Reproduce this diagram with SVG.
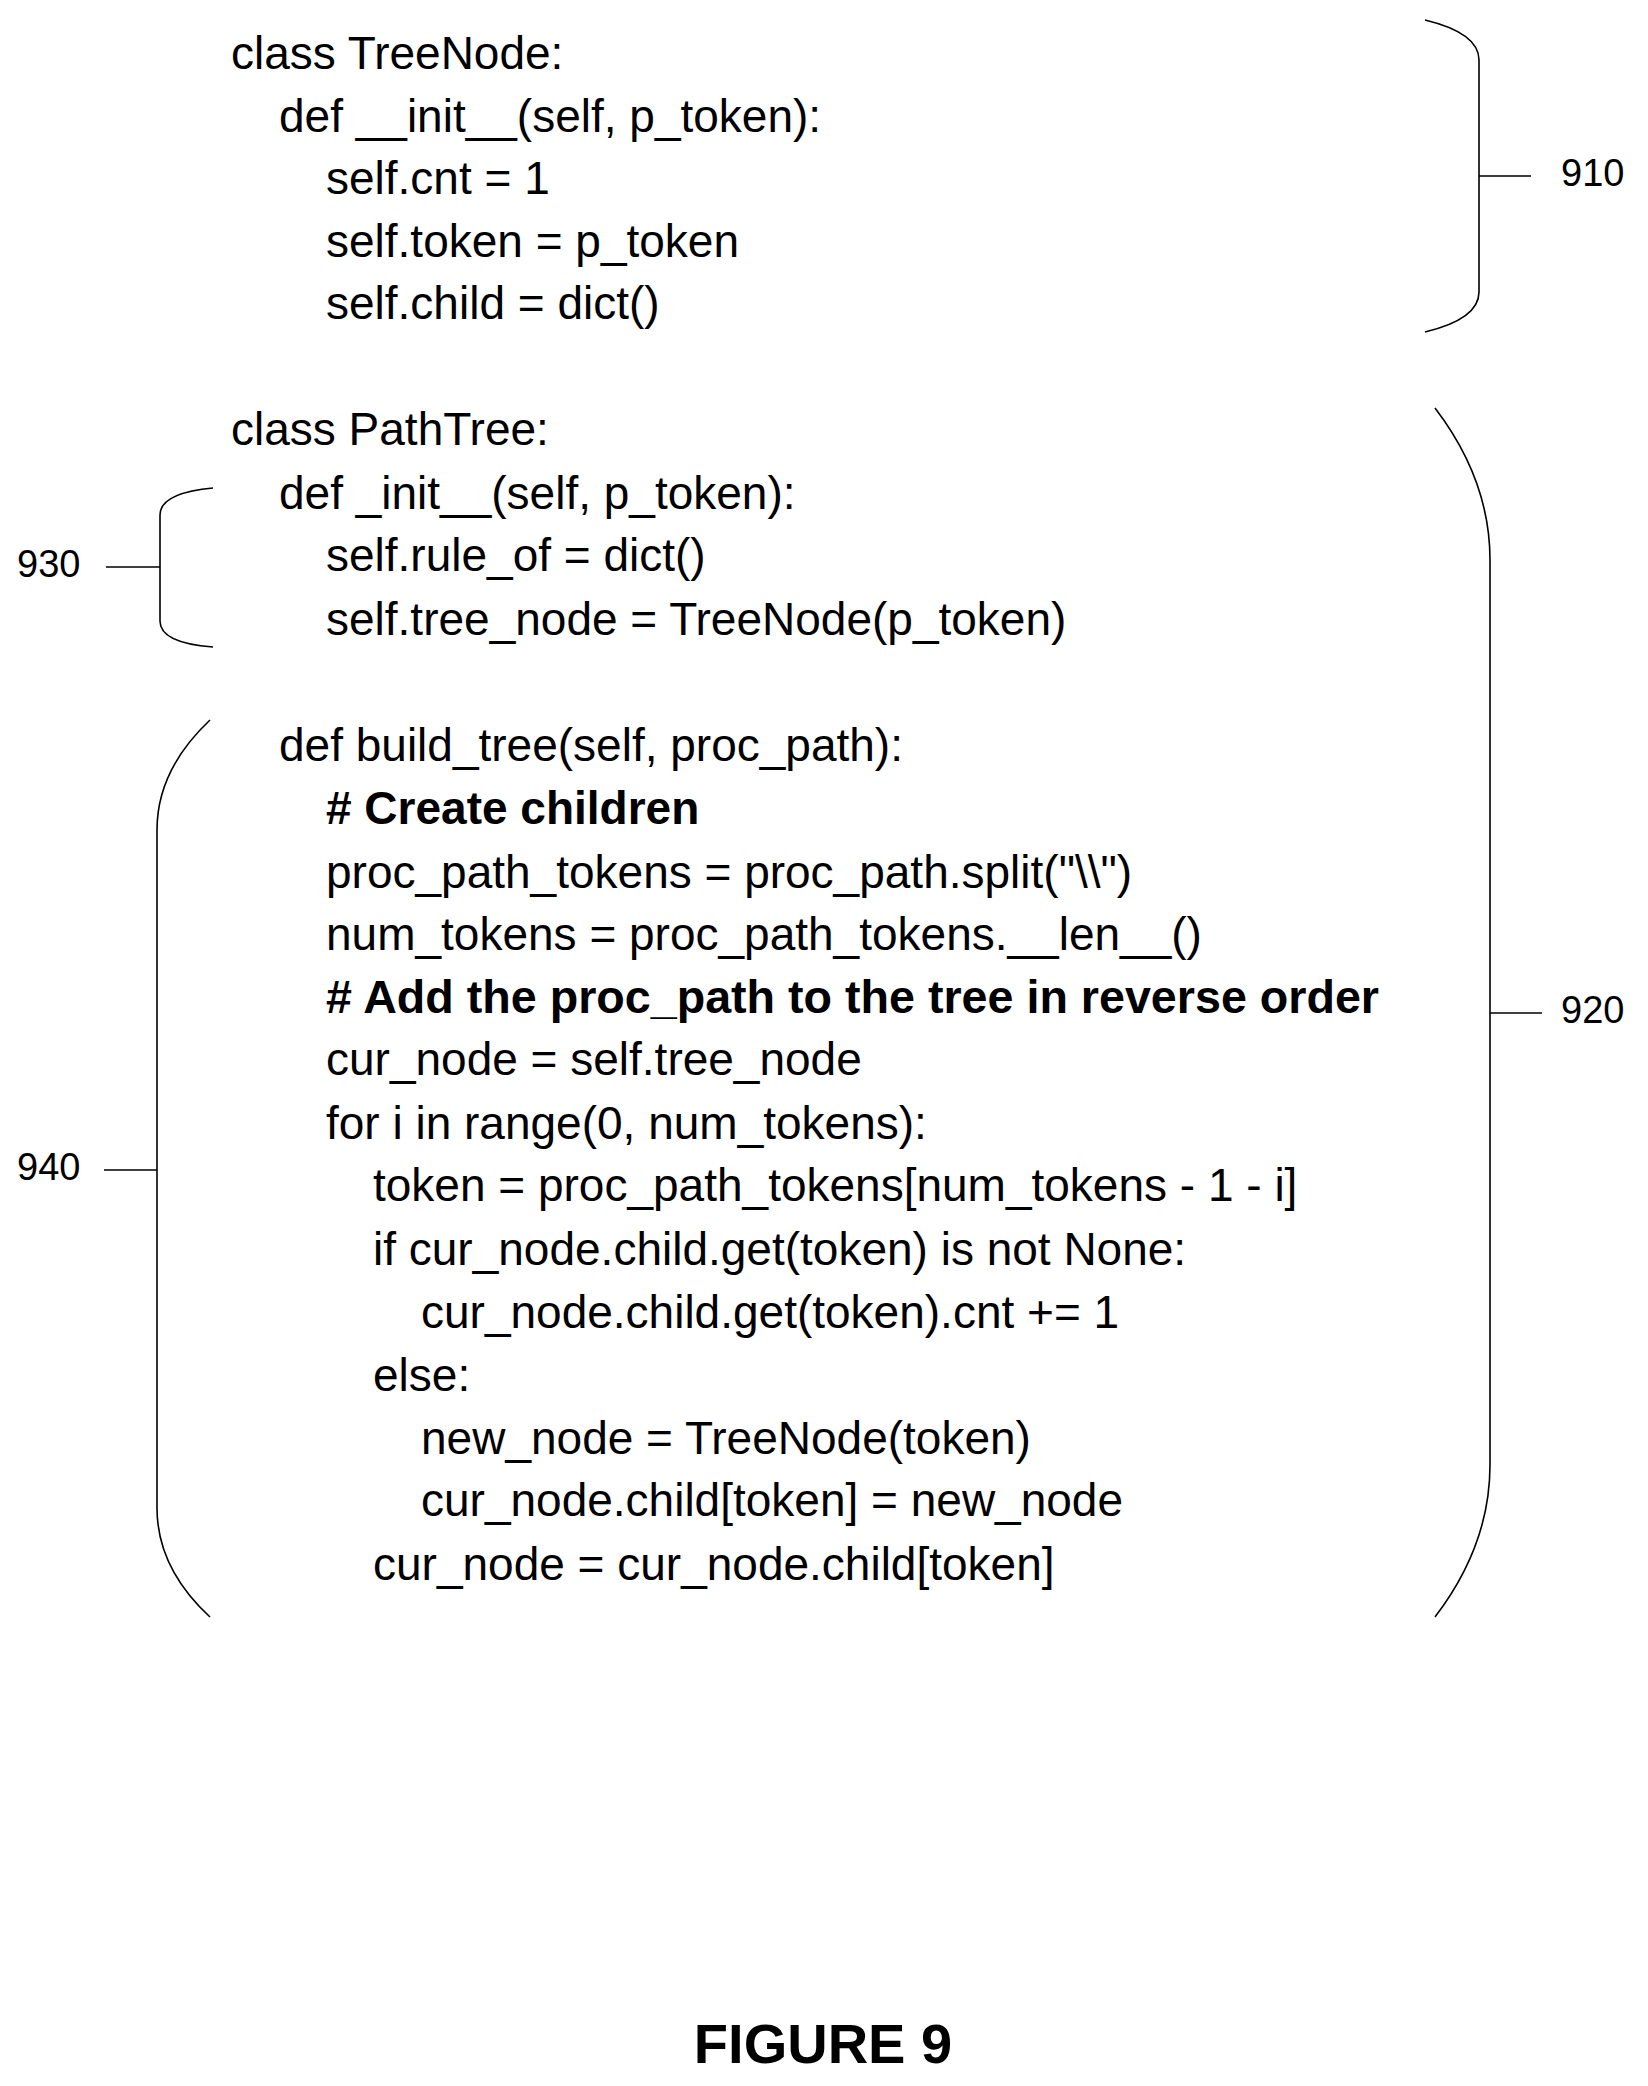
<svg xmlns="http://www.w3.org/2000/svg" width="1648" height="2086" viewBox="0 0 1648 2086">
<style>
.c{font-family:"Liberation Sans",Arial,sans-serif;font-size:46px;fill:#000}
.b{font-weight:bold}
.l{font-family:"Liberation Sans",Arial,sans-serif;font-size:38px;fill:#000;dominant-baseline:middle}
.br{fill:none;stroke:#000;stroke-width:1.6}
</style>
<rect width="1648" height="2086" fill="#fff"/>
<g id="code910">
<text class="c" x="231" y="69">class TreeNode:</text>
<text class="c" x="279" y="132">def __init__(self, p_token):</text>
<text class="c" x="326" y="194">self.cnt = 1</text>
<text class="c" x="326" y="257">self.token = p_token</text>
<text class="c" x="326" y="319">self.child = dict()</text>
</g>
<g id="code920">
<text class="c" x="231" y="445">class PathTree:</text>
<text class="c" x="279" y="509">def _init__(self, p_token):</text>
<text class="c" x="326" y="571">self.rule_of = dict()</text>
<text class="c" x="326" y="635">self.tree_node = TreeNode(p_token)</text>
<text class="c" x="279" y="761">def build_tree(self, proc_path):</text>
<text class="c b" x="326" y="824"># Create children</text>
<text class="c" x="326" y="888">proc_path_tokens = proc_path.split("\\")</text>
<text class="c" x="326" y="950">num_tokens = proc_path_tokens.__len__()</text>
<text class="c b" x="326" y="1013" textLength="1053" lengthAdjust="spacingAndGlyphs"># Add the proc_path to the tree in reverse order</text>
<text class="c" x="326" y="1075">cur_node = self.tree_node</text>
<text class="c" x="326" y="1139">for i in range(0, num_tokens):</text>
<text class="c" x="373" y="1201">token = proc_path_tokens[num_tokens - 1 - i]</text>
<text class="c" x="373" y="1265">if cur_node.child.get(token) is not None:</text>
<text class="c" x="421" y="1328">cur_node.child.get(token).cnt += 1</text>
<text class="c" x="373" y="1391">else:</text>
<text class="c" x="421" y="1454">new_node = TreeNode(token)</text>
<text class="c" x="421" y="1516">cur_node.child[token] = new_node</text>
<text class="c" x="373" y="1580">cur_node = cur_node.child[token]</text>
</g>
<g id="connectors">
<path class="br" d="M1425,20 Q1479,33 1479,60 L1479,292 Q1479,319 1425,332 M1479,176 L1531,176"/>
<path class="br" d="M1435,408 Q1490,480 1490,560 L1490,1465 Q1490,1545 1435,1617 M1490,1013 L1542,1013"/>
<path class="br" d="M213,488 Q160,493 160,515 L160,621 Q160,643 213,647 M106,567 L160,567"/>
<path class="br" d="M210,720 Q157,770 157,830 L157,1508 Q157,1568 210,1617 M104,1170 L157,1170"/>
</g>
<g id="labels">
<text class="l" x="1561" y="176">910</text>
<text class="l" x="1561" y="1013">920</text>
<text class="l" x="17" y="567">930</text>
<text class="l" x="17" y="1170">940</text>
</g>
<text x="823" y="2063" text-anchor="middle" font-family="Liberation Sans,Arial,sans-serif" font-weight="bold" font-size="56">FIGURE 9</text>
</svg>
